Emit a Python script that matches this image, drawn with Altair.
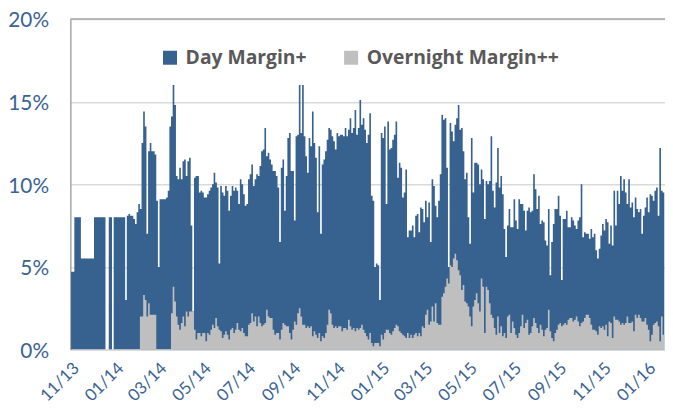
import altair as alt
import pandas as pd

# ---- Day Margin+ (%) read left to right, in five stretches of the time axis ----
DAY_1 = [4.7, 4.7, 8.0, 8.0, 8.0, 8.0, 5.5, 5.5, 5.5, 5.5,
         5.5, 5.5, 5.5, 5.5, 8.0, 8.0, 8.0, 8.0, 8.0, 8.0,
         8.0, 0.0, 0.0, 8.0, 8.0, 0.0, 8.0, 8.0, 8.0, 8.0,
         8.0, 8.0, 8.0, 3.0, 8.1, 8.2, 8.1, 8.1, 7.9, 7.6,
         8.3, 8.8, 8.5, 12.5, 14.4, 13.5, 7.0, 12.0, 12.5, 12.0,
         12.0, 11.8, 9.0, 5.0, 9.1, 9.1, 9.1, 9.1, 9.2, 9.6,
         13.5, 14.1, 16.0, 14.8, 10.5, 10.3, 11.0, 10.3, 11.4, 11.5,
         10.5, 11.4]
DAY_2 = [11.6, 7.5, 2.3, 10.4, 10.5, 10.5, 9.5, 9.6, 9.5, 9.2,
         9.2, 9.4, 9.6, 9.8, 10.0, 10.7, 10.1, 9.8, 5.2, 9.9,
         9.5, 9.3, 9.9, 9.6, 8.4, 9.3, 9.9, 9.6, 9.8, 9.6,
         8.8, 10.3, 10.0, 9.4, 8.7, 8.8, 10.3, 10.6, 11.2, 9.9,
         10.3, 10.6, 10.5, 11.1, 12.0, 12.1, 13.4, 11.7, 11.9, 11.5,
         11.2, 10.8, 10.8, 10.5, 9.8, 6.5, 11.0, 11.5, 8.4, 10.5,
         12.8, 13.1, 10.8, 10.8, 7.8, 12.9, 13.0, 16.0, 13.1, 16.0,
         12.9, 11.7, 10.7]
DAY_3 = [12.8, 12.3, 14.4, 12.5, 11.6, 8.3, 12.3, 7.0, 11.2, 11.5,
         12.0, 12.7, 13.4, 13.3, 12.9, 12.6, 12.1, 13.1, 12.9, 13.0,
         13.0, 12.9, 13.4, 12.9, 13.3, 14.0, 13.1, 13.4, 14.5, 13.0,
         13.4, 15.1, 13.6, 14.0, 13.3, 12.5, 13.0, 14.3, 9.3, 9.0,
         5.0, 5.2, 5.1, 3.0, 13.1, 12.8, 13.5, 8.8, 13.8, 12.1,
         12.2, 12.7, 13.0, 13.8, 10.4, 11.3, 11.0, 9.2, 9.5, 10.9,
         6.8, 7.2, 7.2, 7.5, 6.8, 8.1, 8.2, 7.1, 8.6, 8.5,
         7.7, 9.0, 8.0]
DAY_4 = [8.9, 6.5, 10.3, 9.9, 8.7, 8.0, 9.0, 10.6, 14.2, 13.9,
         14.0, 11.0, 5.0, 13.7, 13.2, 12.6, 13.6, 14.0, 14.8, 13.3,
         13.4, 12.0, 10.3, 10.7, 8.0, 6.4, 12.8, 9.5, 11.3, 11.3,
         11.2, 10.0, 10.9, 10.3, 7.9, 10.2, 10.0, 10.2, 12.9, 9.6,
         8.6, 10.1, 12.2, 9.8, 10.5, 9.4, 7.3, 5.6, 7.5, 8.5,
         7.4, 7.4, 9.1, 7.8, 7.3, 9.1, 8.8, 8.8, 8.4, 7.2,
         8.4, 8.6, 8.3, 8.4, 10.6, 9.7, 8.5, 9.3, 7.6, 7.8,
         7.7, 6.6, 6.3]
DAY_5 = [8.5, 4.5, 6.5, 7.6, 8.5, 8.5, 9.3, 8.1, 4.2, 7.9,
         7.9, 8.4, 7.4, 7.4, 8.0, 7.8, 7.5, 7.3, 7.8, 8.0,
         10.0, 6.8, 7.1, 7.0, 7.0, 6.7, 7.3, 6.8, 7.0, 6.0,
         5.5, 6.1, 6.9, 7.6, 7.2, 7.9, 7.7, 6.4, 7.5, 6.3,
         9.6, 7.5, 9.6, 8.8, 10.5, 9.6, 10.3, 9.5, 8.8, 10.3,
         8.6, 8.9, 8.0, 9.2, 8.5, 8.3, 8.5, 7.0, 8.1, 8.6,
         9.2, 8.3, 9.4, 9.3, 9.0, 9.6, 9.8, 8.1, 12.2, 9.6,
         9.5, 8.9]

# ---- Overnight Margin++ (%) on the same days ----
NIGHT_1 = [0.0, 0.0, 0.0, 0.0, 0.0, 0.0, 0.0, 0.0, 0.0, 0.0,
           0.0, 0.0, 0.0, 0.0, 0.0, 0.0, 0.0, 0.0, 0.0, 0.0,
           0.0, 0.0, 0.0, 0.0, 0.0, 0.0, 0.0, 0.0, 0.0, 0.0,
           0.0, 0.0, 0.0, 0.0, 0.0, 0.0, 0.0, 0.0, 0.0, 0.0,
           0.0, 0.0, 2.0, 2.0, 3.3, 3.0, 2.0, 2.8, 2.1, 2.1,
           2.1, 2.1, 0.0, 0.0, 0.0, 0.0, 0.0, 0.0, 0.0, 0.0,
           0.0, 2.2, 3.8, 2.9, 2.0, 1.5, 1.2, 1.6, 2.0, 1.4,
           2.3, 2.0]
NIGHT_2 = [2.3, 2.3, 2.3, 1.2, 0.6, 1.0, 1.0, 0.8, 1.0, 1.0,
           0.5, 1.0, 0.9, 1.2, 1.5, 1.3, 1.9, 1.4, 1.2, 1.1,
           0.7, 0.9, 1.1, 0.9, 0.6, 1.2, 1.3, 1.0, 1.2, 1.6,
           1.2, 1.1, 1.3, 1.0, 0.8, 0.8, 1.5, 1.6, 2.2, 1.7,
           2.0, 1.4, 2.0, 1.6, 1.4, 1.5, 1.6, 2.4, 2.0, 1.9,
           1.9, 1.2, 0.9, 1.0, 1.0, 0.6, 1.2, 1.6, 1.5, 1.4,
           1.4, 1.0, 0.6, 1.2, 1.7, 1.5, 2.2, 2.5, 2.0, 1.5,
           1.5, 1.3, 1.4]
NIGHT_3 = [1.3, 1.4, 0.8, 1.1, 0.9, 0.7, 1.0, 0.5, 0.8, 0.7,
           1.0, 1.5, 2.4, 2.2, 1.5, 1.3, 1.4, 1.3, 1.4, 1.4,
           1.1, 1.3, 1.3, 1.2, 1.8, 1.4, 1.2, 1.3, 1.1, 1.3,
           1.2, 1.3, 1.5, 1.2, 1.0, 0.8, 0.6, 1.0, 0.4, 0.2,
           0.4, 0.4, 0.4, 0.2, 0.9, 0.6, 1.0, 1.2, 1.2, 1.0,
           0.9, 1.1, 1.3, 1.5, 1.4, 1.1, 1.0, 0.9, 0.8, 0.7,
           1.0, 0.7, 0.9, 0.7, 0.9, 1.0, 0.8, 1.0, 0.8, 1.4,
           1.3, 2.1, 2.4]
NIGHT_4 = [1.5, 1.7, 2.6, 1.7, 2.8, 1.6, 1.5, 1.5, 3.2, 3.4,
           3.8, 4.3, 4.0, 5.1, 5.0, 5.5, 5.8, 5.4, 4.8, 4.5,
           3.6, 3.9, 2.9, 2.8, 2.6, 2.0, 1.4, 2.6, 3.0, 3.4,
           2.8, 2.3, 4.3, 3.8, 1.0, 3.8, 3.6, 2.8, 2.1, 1.9,
           1.3, 0.9, 2.0, 1.0, 1.4, 0.8, 1.0, 0.7, 2.0, 2.1,
           1.0, 1.7, 1.3, 0.9, 0.7, 1.0, 1.4, 2.1, 1.3, 1.6,
           1.8, 0.9, 1.0, 1.4, 1.9, 1.6, 1.3, 1.0, 1.5, 1.2,
           0.8, 1.2, 1.3]
NIGHT_5 = [2.4, 1.1, 0.7, 0.5, 1.0, 1.2, 1.5, 1.6, 1.4, 1.5,
           1.6, 1.5, 1.8, 1.9, 1.9, 1.7, 1.8, 2.0, 1.7, 1.4,
           1.6, 1.7, 1.9, 2.1, 2.1, 1.9, 1.5, 1.2, 1.2, 1.1,
           0.9, 1.4, 1.3, 1.4, 1.2, 1.5, 0.8, 1.7, 1.6, 0.7,
           2.0, 1.8, 1.8, 1.7, 1.5, 1.6, 1.5, 1.6, 2.0, 1.6,
           1.6, 1.7, 1.1, 2.1, 1.9, 2.1, 1.9, 1.7, 1.7, 1.9,
           1.5, 1.2, 0.5, 0.9, 1.5, 1.6, 1.7, 1.4, 0.5, 2.0,
           0.9, 1.5]

SERIES = ["Day Margin+", "Overnight Margin++"]
COLORS = ["#37618F", "#BFBFBF"]
Y_TICKS = [0, 5, 10, 15, 20]
X_TICKS = ["2013-11-01", "2014-01-01", "2014-03-01", "2014-05-01", "2014-07-01",
           "2014-09-01", "2014-11-01", "2015-01-01", "2015-03-01", "2015-05-01",
           "2015-07-01", "2015-09-01", "2015-11-01", "2016-01-01"]
FIRST_DAY, LAST_DAY = "2013-10-25", "2016-01-17"
X_DOMAIN = ["2013-10-24", "2016-01-18"]

day = DAY_1 + DAY_2 + DAY_3 + DAY_4 + DAY_5
night = NIGHT_1 + NIGHT_2 + NIGHT_3 + NIGHT_4 + NIGHT_5
dates = pd.date_range(FIRST_DAY, LAST_DAY, periods=len(day))

df = pd.concat([
    pd.DataFrame({"date": dates, "value": day, "series": SERIES[0]}),
    pd.DataFrame({"date": dates, "value": night, "series": SERIES[1]}),
], ignore_index=True)

LABEL_BLUE = "#3A6293"
FONT = "Lato"


def to_dt(s):
    return alt.DateTime(year=int(s[:4]), month=int(s[5:7]), date=int(s[8:10]))


tick_dt = [to_dt(s) for s in X_TICKS]
dom_dt = [to_dt(s) for s in X_DOMAIN]

x_enc = alt.X("date:T",
              scale=alt.Scale(domain=dom_dt, nice=False),
              axis=alt.Axis(values=tick_dt, format="%m/%y", title=None,
                            labelAngle=315, labelAlign="right", labelBaseline="middle",
                            labelPadding=16, labelFontSize=17,
                            labelColor=LABEL_BLUE, labelFont=FONT, ticks=False,
                            domain=True, domainColor="#D9D9D9", domainWidth=1.5,
                            grid=False, labelOverlap=False, labelFlush=False))
y_enc = alt.Y("value:Q",
              scale=alt.Scale(domain=[0, 20], nice=False),
              axis=alt.Axis(values=Y_TICKS, labelExpr="datum.value + '%'", title=None,
                            labelFontSize=21, labelColor=LABEL_BLUE, labelFont=FONT,
                            labelPadding=22, labelOffset=2, ticks=False,
                            domainColor="#A6A6A6", domainWidth=1.5,
                            gridColor="#D9D9D9", gridWidth=1.5))
color_enc = alt.Color("series:N",
                      scale=alt.Scale(domain=SERIES, range=COLORS),
                      legend=alt.Legend(title=None, orient="none", legendX=91, legendY=29,
                                        direction="horizontal", symbolType="square",
                                        symbolSize=200, symbolStrokeWidth=0,
                                        labelFontSize=19.5, labelFontWeight="bold",
                                        labelColor="#595959", labelFont="Open Sans",
                                        labelLimit=0, columnPadding=35, labelOffset=6,
                                        padding=0))

base = alt.Chart(df)
day_area = base.transform_filter(alt.datum.series == SERIES[0]).mark_area(
    interpolate="step-after", clip=True).encode(x=x_enc, y=y_enc, color=color_enc)
night_area = base.transform_filter(alt.datum.series == SERIES[1]).mark_area(
    interpolate="step-after", clip=True).encode(x=x_enc, y=y_enc, color=color_enc)

top_rule = alt.Chart(pd.DataFrame({"v": [Y_TICKS[-1]]})).mark_rule(
    color="#A6A6A6", strokeWidth=1.5).encode(y=alt.Y("v:Q"))

chart = alt.layer(day_area, night_area, top_rule).properties(
    width=601, height=334,
    autosize=alt.AutoSizeParams(type="none"),
    padding={"left": 63, "top": 9, "right": 0, "bottom": 59},
    background="white",
).configure_view(stroke=None)

chart.save("out.html", embed_options={"renderer": "svg", "actions": False})
